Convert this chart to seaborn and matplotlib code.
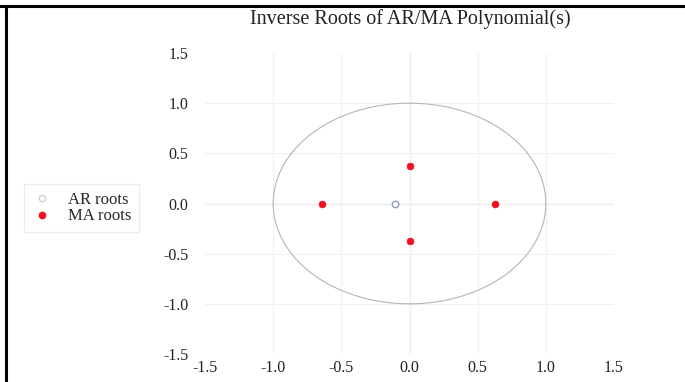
import numpy as np
import pandas as pd
import matplotlib
matplotlib.use("Agg")
import matplotlib.pyplot as plt
from matplotlib.lines import Line2D
import seaborn as sns

# ---- data ----
root_type = ["AR roots", "MA roots", "MA roots", "MA roots", "MA roots"]
real_part = [-0.11, -0.64, 0.63, 0.0, 0.0]
imag_part = [0.0, 0.0, 0.0, 0.37, -0.37]
tick_values = [-1.5, -1.0, -0.5, 0.0, 0.5, 1.0, 1.5]
tick_labels = ["-1.5", "-1.0", "-0.5", "0.0", "0.5", "1.0", "1.5"]
title = "Inverse Roots of AR/MA Polynomial(s)"

df = pd.DataFrame({"re": real_part, "im": imag_part, "type": root_type})

sns.set_theme(style="white")
plt.rcParams["font.family"] = ["Liberation Serif", "DejaVu Serif"]

fig = plt.figure(figsize=(6.85, 3.82), dpi=100)
ax = fig.add_axes([205 / 685, 1 - 354 / 382, (614 - 205) / 685, (354 - 53) / 382])

# unit circle
theta = np.linspace(0, 2 * np.pi, 400)
ax.plot(np.cos(theta), np.sin(theta), color="#b5b5b5", lw=0.8, zorder=1)

# zero lines
ax.axhline(0, color="#dcdcdc", lw=0.9, zorder=0.5)
ax.axvline(0, color="#dcdcdc", lw=0.9, zorder=0.5)

ar = df[df["type"] == "AR roots"]
ma = df[df["type"] == "MA roots"]
sns.scatterplot(data=ar, x="re", y="im", ax=ax, marker="o", s=22,
                facecolor="white", edgecolor="#8a93b5", linewidth=0.9, zorder=3)
sns.scatterplot(data=ma, x="re", y="im", ax=ax, marker="o", s=24,
                color="#f0101e", edgecolor="#f0101e", linewidth=0.5, zorder=3)

ax.set_xlim(-1.5, 1.5)
ax.set_ylim(-1.5, 1.5)
ax.set_xticks(tick_values)
ax.set_xticklabels(tick_labels)
ax.set_yticks(tick_values)
ax.set_yticklabels(tick_labels)
ax.set_xlabel("")
ax.set_ylabel("")
ax.tick_params(axis="x", length=0, pad=4, labelsize=11.5, colors="#222222")
ax.tick_params(axis="y", length=0, pad=12, labelsize=11.5, colors="#222222")
for s in ax.spines.values():
    s.set_visible(False)

ax.grid(True, color="#f0f0f0", lw=0.8)
ax.set_axisbelow(True)
fig.canvas.draw()
for gl in (ax.xaxis.get_gridlines()[0], ax.xaxis.get_gridlines()[-1],
           ax.yaxis.get_gridlines()[0], ax.yaxis.get_gridlines()[-1]):
    gl.set_visible(False)

fig.text(410 / 685, 1 - 19 / 382, title, ha="center", va="center",
         fontsize=14.5, color="#222222")

handles = [
    Line2D([], [], marker="o", ls="none", markersize=4.5, markerfacecolor="white",
           markeredgecolor="#c8cbd6", markeredgewidth=0.9),
    Line2D([], [], marker="o", ls="none", markersize=4.5, markerfacecolor="#f0101e",
           markeredgecolor="#f0101e"),
]
leg = fig.legend(handles, ["AR roots", "MA roots"], loc="center left",
                 bbox_to_anchor=(16 / 685, 1 - 208 / 382), frameon=True,
                 fontsize=12, handlelength=1.2, handletextpad=1.0,
                 labelspacing=0.05, borderpad=0.45, fancybox=False)
leg.get_frame().set_edgecolor("#e6e6e6")
leg.get_frame().set_linewidth(0.8)

# image border (top and left)
fig.add_artist(Line2D([0, 1], [1 - 6 / 382, 1 - 6 / 382], transform=fig.transFigure,
                      color="black", lw=2.2))
fig.add_artist(Line2D([6 / 685, 6 / 685], [0, 1 - 6 / 382], transform=fig.transFigure,
                      color="black", lw=2.2))

fig.savefig("out.png", dpi=100, facecolor="white")
